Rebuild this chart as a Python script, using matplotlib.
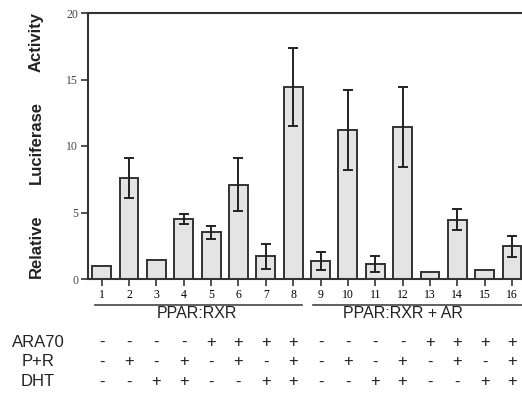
import matplotlib
matplotlib.use("Agg")
import matplotlib.pyplot as plt
import matplotlib.transforms as mtransforms

lanes = list(range(1, 17))
activity = [1.0, 7.6, 1.4, 4.5, 3.5, 7.1, 1.7, 14.45, 1.35, 11.2, 1.15, 11.4, 0.55, 4.45, 0.65, 2.45]
errors = [0, 1.5, 0, 0.4, 0.5, 2.0, 0.95, 2.95, 0.7, 3.0, 0.6, 3.0, 0, 0.8, 0, 0.8]
yticks = [0, 5, 10, 15, 20]
groups = ["PPAR:RXR", "PPAR:RXR + AR"]
row_names = ["ARA70", "P+R", "DHT"]
ara70 = ["-", "-", "-", "-", "+", "+", "+", "+", "-", "-", "-", "-", "+", "+", "+", "+"]
pr = ["-", "+", "-", "+", "-", "+", "-", "+", "-", "+", "-", "+", "-", "+", "-", "+"]
dht = ["-", "-", "+", "+", "-", "-", "+", "+", "-", "-", "+", "+", "-", "-", "+", "+"]
rows = [ara70, pr, dht]
ylabel_words = ["Relative", "Luciferase", "Activity"]
ylabel_pos = [2.5, 10.3, 17.8]

W, H = 522, 399
fig = plt.figure(figsize=(W / 100, H / 100), dpi=100)
ax = fig.add_axes([88 / W, 120 / H, 437.7 / W, 266 / H])

edge = "#333333"
ax.bar(lanes, activity, width=0.69, color="#e4e4e4", edgecolor=edge, linewidth=1.4, zorder=2)
for x, v, e in zip(lanes, activity, errors):
    if e > 0:
        ax.errorbar([x], [v], yerr=[e], fmt="none", ecolor="#222222", elinewidth=1.4,
                    capsize=3.6, capthick=1.4, zorder=3)

ax.set_xlim(0.5, 16.5)
ax.set_ylim(0, 20)
ax.set_yticks(yticks)
ax.set_xticks(lanes)
ax.set_xticklabels([str(i) for i in lanes], family="Liberation Serif", fontsize=8.5)
ax.set_yticklabels([str(t) for t in yticks], family="Liberation Serif", fontsize=8.5, color="#444444")
ax.tick_params(axis="both", direction="out", length=5, width=1.2, color=edge, pad=2)
for s in ["left", "top", "bottom"]:
    ax.spines[s].set_color(edge)
    ax.spines[s].set_linewidth(1.5)
ax.spines["right"].set_visible(False)

for w, p in zip(ylabel_words, ylabel_pos):
    ax.text(-0.119, p, w, transform=mtransforms.blended_transform_factory(ax.transAxes, ax.transData),
            rotation=90, ha="center", va="center", fontsize=12, fontweight="bold",
            family="Liberation Sans", color="#222222")

trans = mtransforms.blended_transform_factory(ax.transData, ax.transAxes)
# group lines
ax.plot([0.76, 8.31], [-0.098, -0.098], transform=trans, color="#444444", lw=1.2, clip_on=False)
ax.plot([8.72, 16.5], [-0.098, -0.098], transform=trans, color="#444444", lw=1.2, clip_on=False)
ax.text(4.5, -0.128, groups[0], transform=trans, ha="center", va="center",
        fontsize=11.5, family="Liberation Sans", color="#222222")
ax.text(12.0, -0.128, groups[1], transform=trans, ha="center", va="center",
        fontsize=11.5, family="Liberation Sans", color="#222222")

row_y = [-0.237, -0.312, -0.387]
for name, vals, yy in zip(row_names, rows, row_y):
    fig.text(38 / W, (120 + yy * 266) / H, name, ha="center", va="center",
             fontsize=12, family="Liberation Sans", color="#222222")
    for x, s in zip(lanes, vals):
        ax.text(x, yy, s, transform=trans, ha="center", va="center",
                fontsize=12, family="Liberation Sans", color="#222222")

fig.savefig("out.png", dpi=100)
